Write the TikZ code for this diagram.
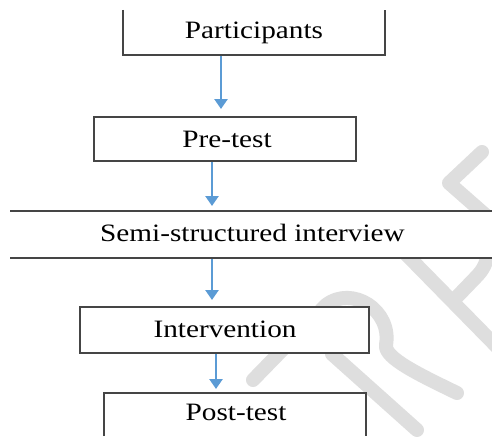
\documentclass[tikz,border=0pt]{standalone}
\usepackage{fontspec}
\setmainfont{Liberation Serif}[FakeStretch=1.17]
\usetikzlibrary{arrows.meta}
\definecolor{arrblue}{HTML}{5B9BD5}
\definecolor{boxline}{HTML}{454545}
\definecolor{wm}{HTML}{DEDEDE}
\tikzset{
  boxln/.style={draw=boxline, line width=1.3pt},
  lbl/.style={anchor=base, inner sep=0pt, font=\fontsize{25}{30}\selectfont},
  arr/.style={draw=arrblue, line width=2.8pt, -{Triangle[width=13pt,length=10pt]}},
  wmark/.style={draw=wm, line width=14pt, line cap=round, line join=round},
}
\begin{document}
\begin{tikzpicture}[x=1pt,y=-1pt]
\useasboundingbox (0,0) rectangle (492,436);
\fill[white] (0,0) rectangle (492,436);
% watermark (drawn first, masked by the white boxes)
\draw[wmark] (482,152) -- (449,183) -- (490,219);
\draw[wmark] (398,246) -- (500,350);
\draw[wmark] (453,301) -- (478,275) .. controls (486,266) and (488,258) .. (487,248);
\draw[wmark] (253,380) -- (326,305) .. controls (352,285) and (392,310) .. (386,345)
  .. controls (384,358) and (420,375) .. (457,393);
\draw[wmark] (332,354) -- (417,430);
% boxes
\filldraw[boxln, fill=white] (123,10) -- (123,55) -- (385,55) -- (385,10);
\filldraw[boxln, fill=white] (94,117) rectangle (356,161);
\fill[white] (10,211) rectangle (492,258);
\draw[boxln] (10,211) -- (492,211);
\draw[boxln] (10,258) -- (492,258);
\filldraw[boxln, fill=white] (80,307) rectangle (369,353);
\fill[white] (104,393) rectangle (366,436);
\draw[boxln] (104,436) -- (104,393) -- (366,393) -- (366,436);
% labels
\node[lbl] (part) at (254,39) {Participants};
\node[lbl] (pre) at (227,147) {Pre-test};
\node[lbl] (semi) at (252.5,241) {Semi-structured interview};
\node[lbl] (inter) at (225,337) {Intervention};
\node[lbl] (post) at (236,420) {Post-test};
% arrow anchors
\coordinate (a1s) at (221,56);
\coordinate (a1e) at (221,109);
\coordinate (a2s) at (212,162);
\coordinate (a2e) at (212,206);
\coordinate (a3s) at (212,259);
\coordinate (a3e) at (212,300);
\coordinate (a4s) at (216,354);
\coordinate (a4e) at (216,389);
\draw[arr] (a1s) -- (a1e);
\draw[arr] (a2s) -- (a2e);
\draw[arr] (a3s) -- (a3e);
\draw[arr] (a4s) -- (a4e);
\end{tikzpicture}
\end{document}
